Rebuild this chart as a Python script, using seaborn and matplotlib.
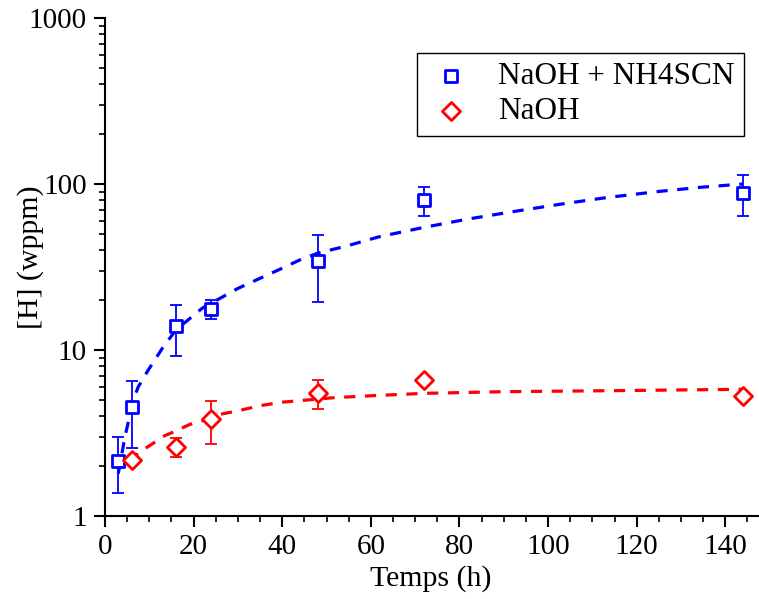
import numpy as np
import pandas as pd
import matplotlib
matplotlib.use("Agg")
import matplotlib.pyplot as plt
import seaborn as sns
from matplotlib.ticker import FixedLocator, NullFormatter, LogLocator

# measured points, NaOH + NH4SCN
t_scn = [3, 6, 16, 24, 48, 72, 144]
h_scn = [2.14, 4.54, 13.9, 17.7, 34.5, 80.1, 88.6]
h_scn_hi = [2.99, 6.5, 18.7, 20.0, 49.3, 96.3, 113]
h_scn_lo = [1.38, 2.57, 9.2, 15.4, 19.5, 64, 64]

# measured points, NaOH
t_naoh = [6, 16, 24, 48, 72, 144]
h_naoh = [2.18, 2.6, 3.83, 5.53, 6.6, 5.28]
h_naoh_hi = [2.18, 2.96, 4.91, 6.6, 6.6, 5.28]
h_naoh_lo = [2.18, 2.26, 2.73, 4.43, 6.6, 5.28]

# fitted curves
fit_t_scn = [3, 4.5, 6.4, 7.5, 9.8, 13, 16, 22, 30, 40, 44, 48, 54.5, 62, 72,
             81.6, 92, 102.7, 113, 124.5, 134.3, 144]
fit_h_scn = [1.8, 3.0, 5.0, 6.0, 7.6, 10.3, 13.2, 17.9, 23.5, 31.1, 34.9, 38.3, 42.3, 48.2, 54.8,
             61.3, 68.1, 75.5, 82.7, 89.9, 95.5, 100]
fit_t_naoh = [5.5, 8, 10.5, 13.5, 16, 19, 22, 26, 30, 35, 40, 45, 52, 60, 72, 90, 115, 144]
fit_h_naoh = [2.15, 2.45, 2.7, 3.05, 3.25, 3.55, 3.75, 4.1, 4.3, 4.62, 4.85, 4.98, 5.17, 5.3,
              5.48, 5.61, 5.69, 5.8]

xticks = [0, 20, 40, 60, 80, 100, 120, 140]
yticks = [1, 10, 100, 1000]
ytick_labels = ["1", "10", "100", "1000"]

blue = "#0000ff"
red = "#ff0000"

sns.set_style("ticks")
plt.rcParams["font.family"] = ["Liberation Serif", "DejaVu Serif"]
plt.rcParams["text.color"] = "black"
plt.rcParams["axes.labelcolor"] = "black"
plt.rcParams["xtick.color"] = "black"
plt.rcParams["ytick.color"] = "black"

fig = plt.figure(figsize=(7.59, 5.99), dpi=100)
ax = fig.add_axes([105 / 759, 1 - 516 / 599, 1 - 105 / 759, (516 - 18) / 599])

# fits
fit1 = pd.DataFrame({"t": fit_t_scn, "h": fit_h_scn})
fit2 = pd.DataFrame({"t": fit_t_naoh, "h": fit_h_naoh})
sns.lineplot(data=fit1, x="t", y="h", ax=ax, color=blue, lw=2.3, zorder=2)
sns.lineplot(data=fit2, x="t", y="h", ax=ax, color=red, lw=2.3, zorder=2)
for ln in ax.lines:
    ln.set_dashes((3.5, 3.0))

# error bars, only where there is a spread
def draw_err(t, h, hi, lo, c):
    t = np.array(t); h = np.array(h); hi = np.array(hi); lo = np.array(lo)
    m = (hi - lo) > 0
    ax.errorbar(t[m], h[m], yerr=[h[m] - lo[m], hi[m] - h[m]], fmt="none",
                ecolor=c, elinewidth=1.3, capsize=4, capthick=1.3, zorder=3)

draw_err(t_scn, h_scn, h_scn_hi, h_scn_lo, blue)
draw_err(t_naoh, h_naoh, h_naoh_hi, h_naoh_lo, red)

pts1 = pd.DataFrame({"t": t_scn, "h": h_scn})
pts2 = pd.DataFrame({"t": t_naoh, "h": h_naoh})
sns.scatterplot(data=pts1, x="t", y="h", ax=ax, marker="s", s=75, facecolor="white",
                edgecolor=blue, linewidth=2, label="NaOH + NH4SCN", zorder=4)
sns.scatterplot(data=pts2, x="t", y="h", ax=ax, marker="D", s=85, facecolor="white",
                edgecolor=red, linewidth=2, label="NaOH", zorder=4)

ax.set_yscale("log")
ax.set_xlim(0, 147.6)
ax.set_ylim(1, 1000)
ax.set_xticks(xticks)
ax.set_xticklabels([str(v) for v in xticks])
ax.xaxis.set_minor_locator(FixedLocator(np.arange(0, 148, 5)))
ax.yaxis.set_major_locator(FixedLocator(yticks))
ax.set_yticklabels(ytick_labels)
ax.yaxis.set_minor_locator(LogLocator(base=10, subs=np.arange(2, 10)))
ax.yaxis.set_minor_formatter(NullFormatter())

ax.tick_params(which="major", direction="out", length=8, width=1.5, labelsize=21, pad=5)
ax.tick_params(which="minor", direction="out", length=4, width=1.2)
for s in ["left", "bottom"]:
    ax.spines[s].set_linewidth(1.5)
    ax.spines[s].set_color("black")
ax.spines["top"].set_visible(False)
ax.spines["right"].set_visible(False)

ax.set_xlabel("Temps (h)", fontsize=21.5)
ax.set_ylabel("[H] (wppm)", fontsize=21.5)
ax.xaxis.set_label_coords(0.498, -0.098)
ax.yaxis.set_label_coords(-0.093, 0.52)

leg = ax.legend(loc="upper right", bbox_to_anchor=(0.977, 0.930), borderaxespad=0,
                frameon=True, fancybox=False, edgecolor="black", framealpha=1, fontsize=22.5,
                handletextpad=0.7, labelspacing=0.2, borderpad=0.3, handlelength=1.6)
leg.get_frame().set_linewidth(1.0)

fig.savefig("out.png", dpi=100)
